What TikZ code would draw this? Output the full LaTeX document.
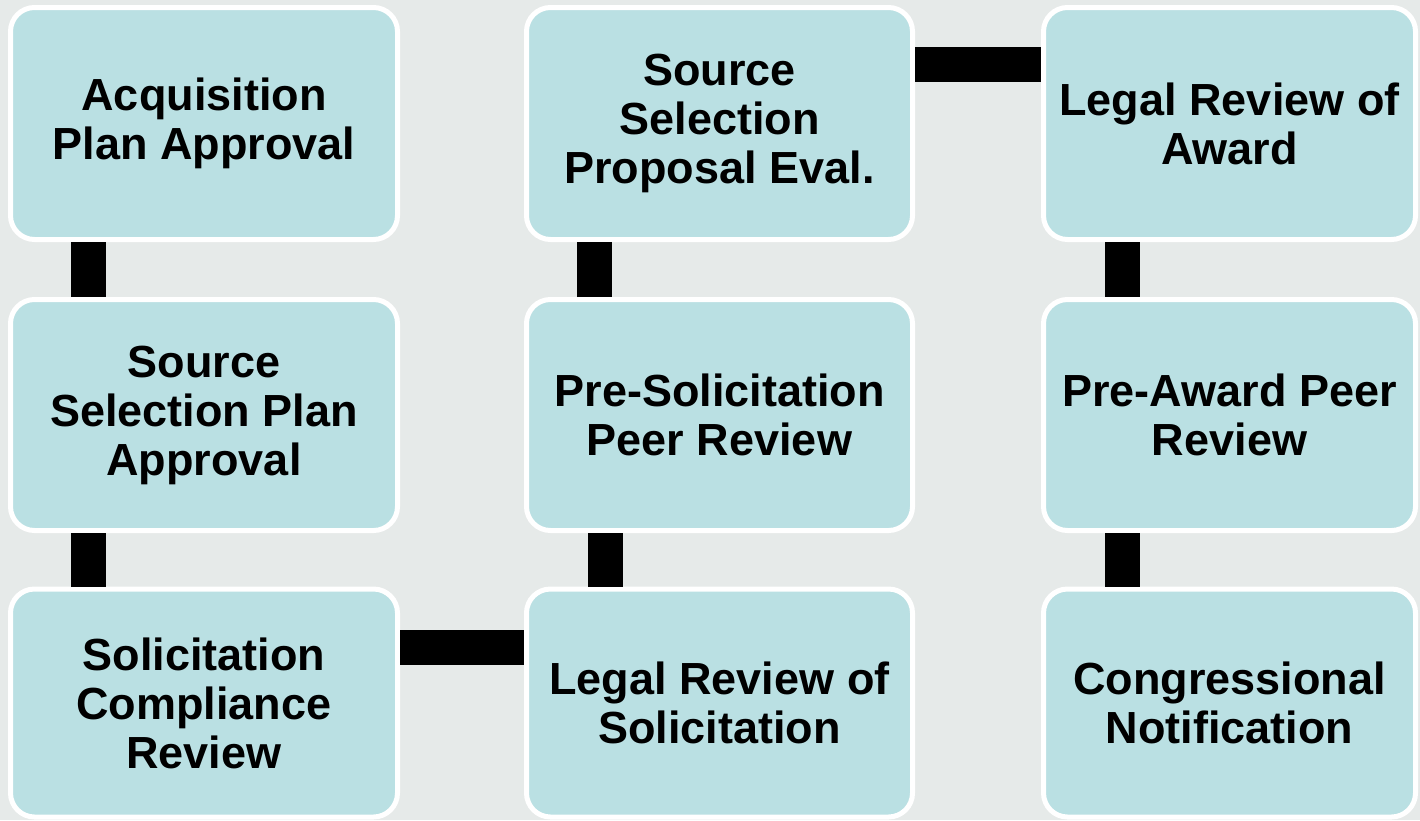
\documentclass[tikz,border=0pt]{standalone}
\usepackage{fontspec}
\setmainfont{Liberation Sans}
\usetikzlibrary{calc}
\definecolor{bgcol}{RGB}{230,234,233}
\definecolor{boxfill}{RGB}{186,224,227}
\tikzset{
  stage/.style={draw=white, line width=5pt, fill=boxfill, rounded corners=24pt,
    align=center, inner sep=0pt, font=\fontsize{45}{49}\selectfont\bfseries, text=black},
  conn/.style={draw=black, line width=35pt, line cap=butt}
}
\begin{document}
\begin{tikzpicture}[x=1pt,y=-1pt]
\fill[bgcol] (0,0) rectangle (1420,820);
\useasboundingbox (0,0) rectangle (1420,820);
% row 1
\node[stage, minimum width=387pt, minimum height=232pt] (a1) at (204,123.5) {Acquisition\\Plan Approval};
\node[stage, minimum width=386pt, minimum height=232pt] (b1) at (719.5,123.5) {Source\\Selection\\Proposal Eval.};
\node[stage, minimum width=372pt, minimum height=232pt] (c1) at (1229.5,123.5) {Legal Review of\\Award};
% row 2
\node[stage, minimum width=387pt, minimum height=231pt] (a2) at (204,415) {Source\\Selection Plan\\Approval};
\node[stage, minimum width=386pt, minimum height=231pt] (b2) at (719.5,415) {Pre-Solicitation\\Peer Review};
\node[stage, minimum width=372pt, minimum height=231pt] (c2) at (1229.5,415) {Pre-Award Peer\\Review};
% row 3
\node[stage, minimum width=387pt, minimum height=228pt] (a3) at (204,703) {Solicitation\\Compliance\\Review};
\node[stage, minimum width=386pt, minimum height=228pt] (b3) at (719.5,703) {Legal Review of\\Solicitation};
\node[stage, minimum width=372pt, minimum height=228pt] (c3) at (1229.5,703) {Congressional\\Notification};
% connectors
\draw[conn] ($(a1.south west)+(80.5,0)$) -- ($(a2.north west)+(80.5,0)$);
\draw[conn] ($(a2.south west)+(80.5,0)$) -- ($(a3.north west)+(80.5,0)$);
\draw[conn] ($(a3.north east)+(0,60.5)$) -- ($(b3.north west)+(0,60.5)$);
\draw[conn] ($(b3.north west)+(81.5,0)$) -- ($(b2.south west)+(81.5,0)$);
\draw[conn] ($(b2.north west)+(70.5,0)$) -- ($(b1.south west)+(70.5,0)$);
\draw[conn] ($(b1.north east)+(0,59.5)$) -- ($(c1.north west)+(0,59.5)$);
\draw[conn] ($(c1.south west)+(81.5,0)$) -- ($(c2.north west)+(81.5,0)$);
\draw[conn] ($(c2.south west)+(81.5,0)$) -- ($(c3.north west)+(81.5,0)$);
\end{tikzpicture}
\end{document}
